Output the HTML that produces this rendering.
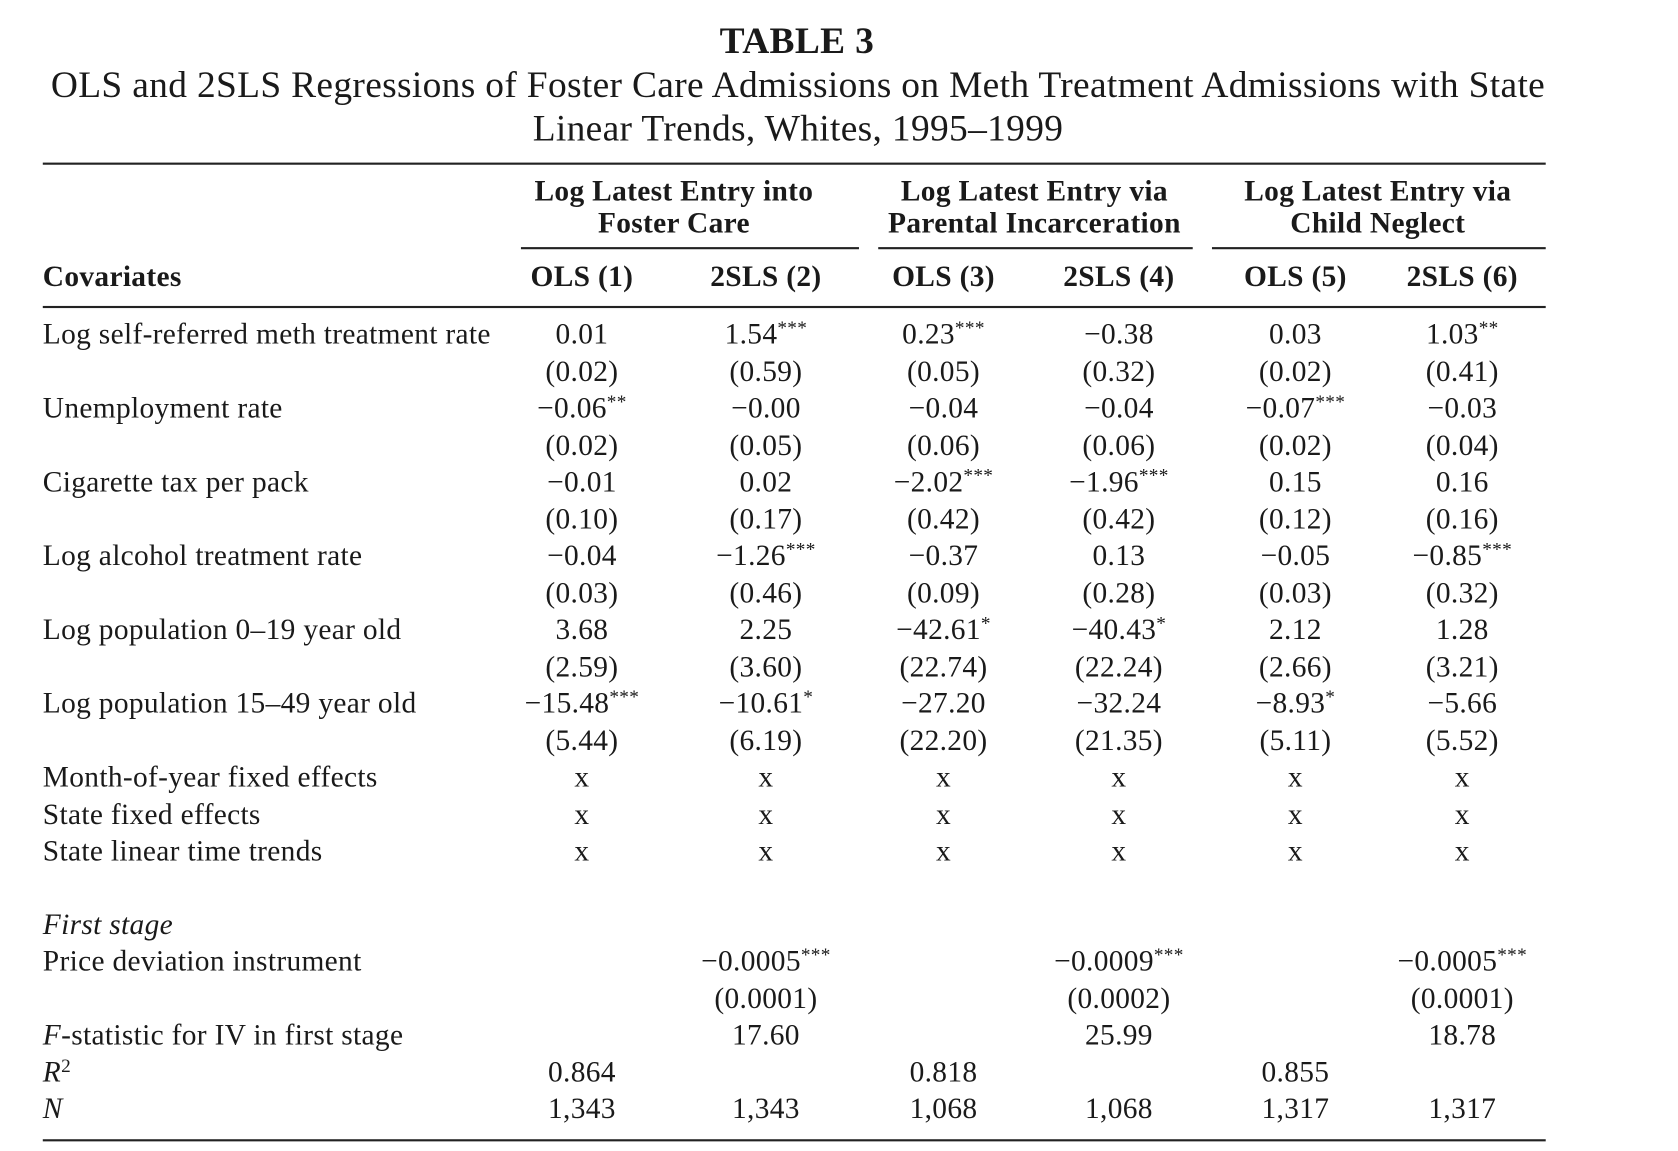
<!DOCTYPE html>
<html><head><meta charset="utf-8">
<style>
html,body{margin:0;padding:0;background:#fff;}
body{width:1678px;height:1151px;overflow:hidden;position:relative;}
#wrap{position:absolute;left:0;top:0;width:1568px;height:1076px;transform:scale(1.0697);transform-origin:0 0;font-family:"Liberation Serif",serif;color:#1a1a1a;}
.t{position:absolute;white-space:nowrap;font-size:27.5px;letter-spacing:0.3px;line-height:1;transform:translate(-50%,-50%);}
.l{position:absolute;white-space:nowrap;font-size:27.5px;letter-spacing:0.3px;line-height:1;transform:translateY(-50%);}
.b{font-weight:bold;}
.rule{position:absolute;background:#222;}
sup{font-size:18px;vertical-align:9px;line-height:0;}
</style></head><body>
<div id="wrap">
<div class="t b" style="left:745px;top:38px;font-size:35px">TABLE 3</div>
<div class="t" style="left:746px;top:79px;font-size:35px">OLS and 2SLS Regressions of Foster Care Admissions on Meth Treatment Admissions with State</div>
<div class="t" style="left:746px;top:120px;font-size:35px">Linear Trends, Whites, 1995–1999</div>
<div class="rule" style="left:40px;top:152px;width:1405px;height:2px"></div>

<div class="t b" style="left:630px;top:178px">Log Latest Entry into</div>
<div class="t b" style="left:630px;top:208px">Foster Care</div>
<div class="t b" style="left:967px;top:178px">Log Latest Entry via</div>
<div class="t b" style="left:967px;top:208px">Parental Incarceration</div>
<div class="t b" style="left:1288px;top:178px">Log Latest Entry via</div>
<div class="t b" style="left:1288px;top:208px">Child Neglect</div>
<div class="rule" style="left:487px;top:231px;width:316px;height:1.5px"></div>
<div class="rule" style="left:821px;top:231px;width:294px;height:1.5px"></div>
<div class="rule" style="left:1133px;top:231px;width:312px;height:1.5px"></div>
<div class="l b" style="left:40px;top:258px">Covariates</div>
<div class="rule" style="left:40px;top:286px;width:1405px;height:2px"></div>
<div class="rule" style="left:40px;top:1065px;width:1405px;height:2px"></div>
</div>
<script>
const colCenters=[544,716,882,1046,1211,1367];
const colHeaders=["OLS (1)","2SLS (2)","OLS (3)","2SLS (4)","OLS (5)","2SLS (6)"];
const rowLabels=["Log self-referred meth treatment rate","","Unemployment rate","","Cigarette tax per pack","","Log alcohol treatment rate","","Log population 0–19 year old","","Log population 15–49 year old","","Month-of-year fixed effects","State fixed effects","State linear time trends"];
const rowValues=[
["0.01","1.54***","0.23***","−0.38","0.03","1.03**"],
["(0.02)","(0.59)","(0.05)","(0.32)","(0.02)","(0.41)"],
["−0.06**","−0.00","−0.04","−0.04","−0.07***","−0.03"],
["(0.02)","(0.05)","(0.06)","(0.06)","(0.02)","(0.04)"],
["−0.01","0.02","−2.02***","−1.96***","0.15","0.16"],
["(0.10)","(0.17)","(0.42)","(0.42)","(0.12)","(0.16)"],
["−0.04","−1.26***","−0.37","0.13","−0.05","−0.85***"],
["(0.03)","(0.46)","(0.09)","(0.28)","(0.03)","(0.32)"],
["3.68","2.25","−42.61*","−40.43*","2.12","1.28"],
["(2.59)","(3.60)","(22.74)","(22.24)","(2.66)","(3.21)"],
["−15.48***","−10.61*","−27.20","−32.24","−8.93*","−5.66"],
["(5.44)","(6.19)","(22.20)","(21.35)","(5.11)","(5.52)"],
["x","x","x","x","x","x"],
["x","x","x","x","x","x"],
["x","x","x","x","x","x"]];
const lowerLabels=["<i>First stage</i>","Price deviation instrument","","<i>F</i>-statistic for IV in first stage","<i>R</i><sup>2</sup>","<i>N</i>"];
const lowerValues=[
["","","","","",""],
["","−0.0005***","","−0.0009***","","−0.0005***"],
["","(0.0001)","","(0.0002)","","(0.0001)"],
["","17.60","","25.99","","18.78"],
["0.864","","0.818","","0.855",""],
["1,343","1,343","1,068","1,068","1,317","1,317"]];
const wrap=document.getElementById('wrap');
function fmt(s){const m=s.match(/^(.*?)(\*+)$/);return m?m[1]+'<sup>'+m[2]+'</sup>':s;}
function cell(cls,x,y,html,name){const d=document.createElement('div');d.className=cls;d.style.left=x+'px';d.style.top=y+'px';d.innerHTML=html;


wrap.appendChild(d);}
colHeaders.forEach((h,i)=>cell('t b',colCenters[i],258,h,'column-header'));
rowLabels.forEach((lab,r)=>{const y=312+r*34.5;if(lab)cell('l',40,y,lab,'row-label');
rowValues[r].forEach((v,c)=>{if(v)cell('t',colCenters[c],y,fmt(v),'cell-value');});});
lowerLabels.forEach((lab,r)=>{const y=864+r*34.4;if(lab)cell('l',40,y,lab,'row-label');
lowerValues[r].forEach((v,c)=>{if(v)cell('t',colCenters[c],y,fmt(v),'cell-value');});});
</script>
</body></html>
